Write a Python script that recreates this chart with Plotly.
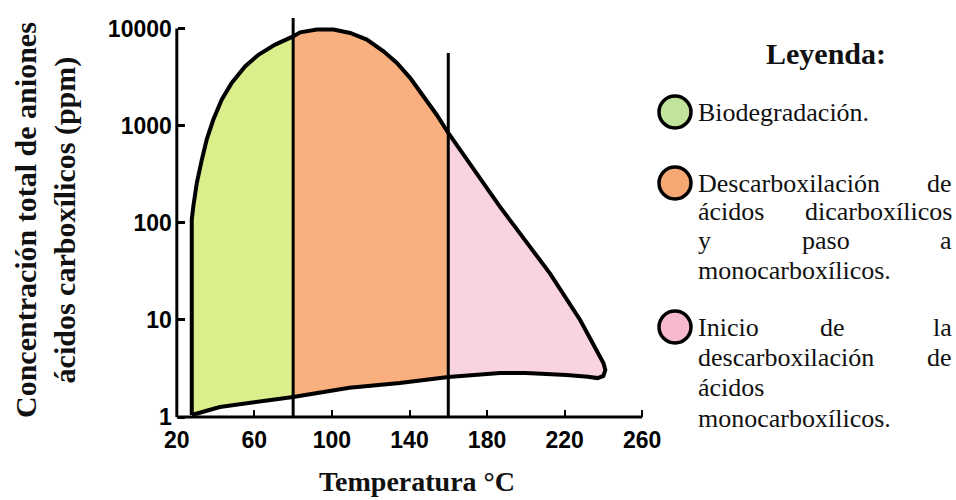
import plotly.graph_objects as go

# ---------------- data ----------------
temp_upper = [27.7, 27.7, 27.7, 28.5, 30.3, 32.9, 35.4, 38.8, 43.2, 48.3, 55.2, 62.1, 70.7, 80.0,
              83.6, 92.2, 100.8, 109.4, 118.0, 126.6, 133.5, 140.4, 147.2, 154.1, 160.0,
              186.7, 212.5, 228.0, 234.0, 237.5, 240.0, 241.0]
conc_upper = [1.05, 16, 107, 147, 257, 447, 718, 1150, 1860, 2760, 4080, 5370, 6840, 8300,
              9140, 9770, 9770, 9020, 7700, 5830, 4420, 3090, 2000, 1290, 841,
              146, 30, 10, 6.0, 4.5, 3.6, 3.05]
temp_lower = [27.7, 42.2, 59.2, 80.0, 109.0, 135.0, 160.0, 186.7, 200.0, 221.0, 232.0, 237.0, 240.0, 241.0]
conc_lower = [1.05, 1.27, 1.43, 1.61, 2.0, 2.24, 2.58, 2.84, 2.85, 2.71, 2.6, 2.52, 2.65, 3.05]

boundary_temps = [80, 160]
boundary_tops = [12850, 5600]

region_names = ["Biodegradación", "Descarboxilación de ácidos dicarboxílicos",
                "Inicio de la descarboxilación de ácidos monocarboxílicos"]
region_colors = ["#dbee8c", "#fab07e", "#fad3e1"]
legend_dot_colors = ["#c2e39c", "#f5a872", "#f6b9cd"]

x_ticks = [20, 60, 100, 140, 180, 220, 260]
y_ticks = [1, 10, 100, 1000, 10000]
y_tick_text = ["1", "10", "100", "1000", "10000"]

x_title = "Temperatura °C"
y_title = "Concentración total de aniones<br>ácidos carboxílicos (ppm)"
legend_title = "Leyenda:"

# ---------------- layout geometry ----------------
W, H = 956, 500
ML, MR, MT, MB = 171, 308, 14, 80
PW, PH = W - ML - MR, H - MT - MB
XR = [17, 263]
YR = [-0.03, 4.15]


def pxx(x):
    return (x - ML) / PW


def pxy(y):
    return (MT + PH - y) / PH


fig = go.Figure()

edges = [XR[0]] + boundary_temps + [XR[1]]
for i in range(3):
    lo, hi = edges[i], edges[i + 1]
    ux = [x for x in temp_upper if lo <= x <= hi]
    uy = [y for x, y in zip(temp_upper, conc_upper) if lo <= x <= hi]
    lx = [x for x in temp_lower if lo <= x <= hi]
    ly = [y for x, y in zip(temp_lower, conc_lower) if lo <= x <= hi]
    fig.add_trace(go.Scatter(x=ux + lx[::-1], y=uy + ly[::-1], fill="toself",
                             fillcolor=region_colors[i], mode="lines",
                             line=dict(width=0, color=region_colors[i]),
                             name=region_names[i], hoverinfo="skip"))

# outline
fig.add_trace(go.Scatter(x=temp_upper + temp_lower[::-1], y=conc_upper + conc_lower[::-1],
                         mode="lines", line=dict(color="black", width=4),
                         hoverinfo="skip"))

# boundary lines
for t, top in zip(boundary_temps, boundary_tops):
    fig.add_trace(go.Scatter(x=[t, t], y=[1, top], mode="lines",
                             line=dict(color="black", width=3), hoverinfo="skip"))

# axis lines
fig.add_trace(go.Scatter(x=[x_ticks[0], x_ticks[0]], y=[y_ticks[0], y_ticks[-1]], mode="lines",
                         line=dict(color="black", width=3), hoverinfo="skip"))
fig.add_trace(go.Scatter(x=[x_ticks[0], x_ticks[-1]], y=[y_ticks[0], y_ticks[0]], mode="lines",
                         line=dict(color="black", width=3), hoverinfo="skip"))

tickfont = dict(family="Liberation Sans", size=23, color="black", weight="bold")

fig.update_layout(
    width=W, height=H, showlegend=False,
    paper_bgcolor="white", plot_bgcolor="white",
    margin=dict(l=ML, r=MR, t=MT, b=MB),
    xaxis=dict(range=XR, tickvals=x_ticks, ticks="inside", ticklen=7, tickwidth=2,
               tickcolor="black", showgrid=False, zeroline=False, showline=False,
               anchor="free", position=(0 - YR[0]) / (YR[1] - YR[0]),
               ticklabelstandoff=7, tickfont=tickfont, fixedrange=True),
    yaxis=dict(type="log", range=YR, tickvals=y_ticks, ticktext=y_tick_text,
               ticks="inside", ticklen=7, tickwidth=2.5, tickcolor="black",
               showgrid=False, zeroline=False, showline=False,
               anchor="free", position=(20 - XR[0]) / (XR[1] - XR[0]),
               ticklabelstandoff=5, tickfont=tickfont, fixedrange=True),
)

serif_b = dict(family="Liberation Serif", size=30, color="#111", weight="bold")
serif_bx = dict(family="Liberation Serif", size=28, color="#111", weight="bold")
serif = dict(family="Liberation Serif", size=26, color="#111")

anns = []
anns.append(dict(text=y_title, x=pxx(46), y=pxy(220), textangle=-90, font=serif_b,
                 xanchor="center", yanchor="middle"))
anns.append(dict(text=x_title, x=pxx(417), y=pxy(482), font=serif_bx,
                 xanchor="center", yanchor="middle"))
anns.append(dict(text=legend_title, x=pxx(826), y=pxy(53), font=serif_b,
                 xanchor="center", yanchor="middle"))

TL, TR = 696, 954
legend_text = [
    ("Biodegradación.", TL, "left", 112),
    ("Descarboxilación", TL, "left", 183),
    ("de", TR, "right", 183),
    ("ácidos", TL, "left", 212),
    ("dicarboxílicos", TR, "right", 212),
    ("y", TL, "left", 241),
    ("paso", 826, "center", 241),
    ("a", TR, "right", 241),
    ("monocarboxílicos.", TL, "left", 270),
    ("Inicio", TL, "left", 327),
    ("de", 832, "center", 327),
    ("la", TR, "right", 327),
    ("descarboxilación", TL, "left", 357),
    ("de", TR, "right", 357),
    ("ácidos", TL, "left", 387),
    ("monocarboxílicos.", TL, "left", 418),
]
for txt, x, anc, y in legend_text:
    anns.append(dict(text=txt, x=pxx(x), y=pxy(y), font=serif, xanchor=anc, yanchor="middle"))

for a in anns:
    a.update(xref="paper", yref="paper", showarrow=False)
fig.update_layout(annotations=anns)

dot_y = [112, 183, 327]
r = 16
for c, yy in zip(legend_dot_colors, dot_y):
    fig.add_shape(type="circle", xref="paper", yref="paper",
                  x0=pxx(675 - r), x1=pxx(675 + r), y0=pxy(yy + r), y1=pxy(yy - r),
                  fillcolor=c, line=dict(color="black", width=3.5))

fig.write_html("out.html", config={"displayModeBar": False},
               post_script="document.body.style.margin='0px';")
